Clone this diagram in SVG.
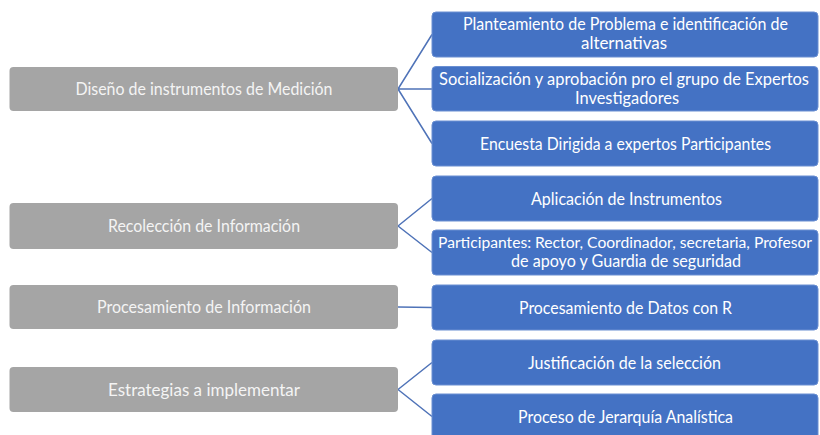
<svg xmlns="http://www.w3.org/2000/svg" width="820" height="435" viewBox="0 0 820 435">
<style>
.g{fill:#a5a5a5;}
.b{fill:#4472c4;stroke:#6a8fd2;stroke-width:1;}
.t{font-family:Lato,"Liberation Sans",sans-serif;font-size:16.5px;fill:#ffffff;text-anchor:middle;}
.gt{fill:#f4f4f4;}
.c{stroke:#4f73b8;stroke-width:1.5;fill:none;}
</style>
<rect width="820" height="435" fill="#ffffff"/>
<g id="connectors">
<path class="c" d="M398,89 L432,34.5 M398,89 L432,89 M398,89 L432,143.5"/>
<path class="c" d="M398,226 L432,198.5 M398,226 L432,252.5"/>
<path class="c" d="M398,307 L432,307.5"/>
<path class="c" d="M398,389.5 L432,362.5 M398,389.5 L432,416.5"/>
</g>
<g id="n1"><rect class="g" x="9.5" y="67" width="388.5" height="44" rx="4"/><text class="t gt" x="204" y="95" textLength="257" lengthAdjust="spacingAndGlyphs">Diseño de instrumentos de Medición</text></g>
<g id="n2"><rect class="g" x="9.5" y="203" width="388.5" height="46" rx="4"/><text class="t gt" x="204" y="232" textLength="192" lengthAdjust="spacingAndGlyphs">Recolección de Información</text></g>
<g id="n3"><rect class="g" x="9.5" y="285" width="388.5" height="44" rx="4"/><text class="t gt" x="204" y="313" textLength="214" lengthAdjust="spacingAndGlyphs">Procesamiento de Información</text></g>
<g id="n4"><rect class="g" x="9.5" y="367" width="388.5" height="45" rx="4"/><text class="t gt" x="204" y="395.5" textLength="192" lengthAdjust="spacingAndGlyphs">Estrategias a implementar</text></g>
<g id="a"><rect class="b" x="432" y="12" width="386" height="45" rx="4"/><text class="t" x="625.5" y="30" textLength="325" lengthAdjust="spacingAndGlyphs">Planteamiento de Problema e identificación de</text><text class="t" x="624" y="49" textLength="86" lengthAdjust="spacingAndGlyphs">alternativas</text></g>
<g id="b"><rect class="b" x="432" y="66.5" width="386" height="44.5" rx="4"/><text class="t" x="624" y="85" textLength="370" lengthAdjust="spacingAndGlyphs">Socialización y aprobación pro el grupo de Expertos</text><text class="t" x="627" y="104" textLength="104" lengthAdjust="spacingAndGlyphs">Investigadores</text></g>
<g id="c"><rect class="b" x="432" y="121" width="386" height="45" rx="4"/><text class="t" x="625.5" y="149.5" textLength="291" lengthAdjust="spacingAndGlyphs">Encuesta Dirigida a expertos Participantes</text></g>
<g id="d"><rect class="b" x="432" y="176" width="386" height="45" rx="4"/><text class="t" x="626.5" y="204.5" textLength="191" lengthAdjust="spacingAndGlyphs">Aplicación de Instrumentos</text></g>
<g id="e"><rect class="b" x="432" y="230" width="386" height="45" rx="4"/><text class="t" x="625" y="248" style="font-size:15.5px" textLength="374" lengthAdjust="spacingAndGlyphs">Participantes: Rector, Coordinador, secretaria, Profesor</text><text class="t" x="626" y="267" textLength="230" lengthAdjust="spacingAndGlyphs">de apoyo y Guardia de seguridad</text></g>
<g id="f"><rect class="b" x="432" y="285" width="386" height="45" rx="4"/><text class="t" x="625.5" y="313.5" textLength="213" lengthAdjust="spacingAndGlyphs">Procesamiento de Datos con R</text></g>
<g id="g"><rect class="b" x="432" y="340" width="386" height="45" rx="4"/><text class="t" x="624.5" y="368.5" textLength="193" lengthAdjust="spacingAndGlyphs">Justificación de la selección</text></g>
<g id="h"><rect class="b" x="432" y="394" width="386" height="45" rx="4"/><text class="t" x="625.5" y="422.5" textLength="215" lengthAdjust="spacingAndGlyphs">Proceso de Jerarquía Analística</text></g>
</svg>
